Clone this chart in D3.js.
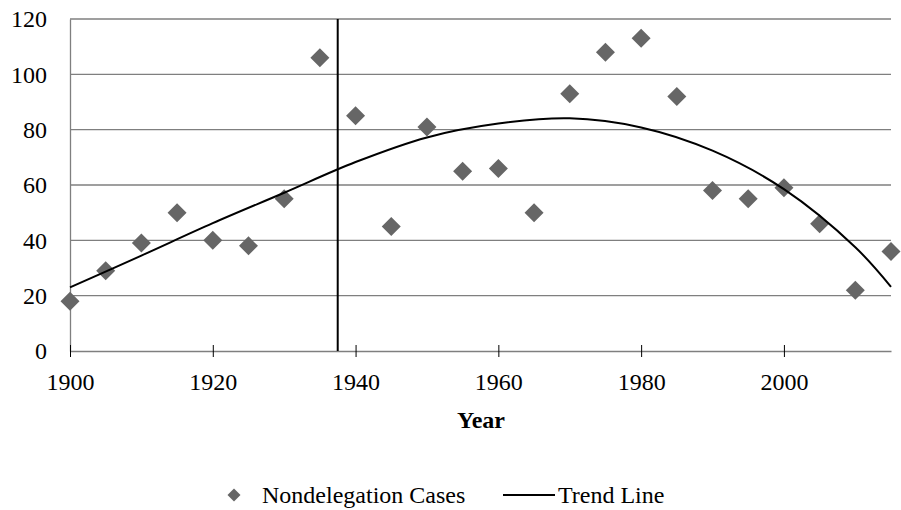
<!DOCTYPE html>
<html>
<head>
<meta charset="utf-8">
<script src="https://cdn.jsdelivr.net/npm/d3@7"></script>
<style>
  body { margin: 0; background: #fff; }
  svg, svg text { font-family: "Liberation Serif", "DejaVu Serif", serif; }
</style>
</head>
<body>
<svg></svg>
<script>
// scatter data
let years = [1900, 1905, 1910, 1915, 1920, 1925, 1930, 1935, 1940, 1945, 1950, 1955,
             1960, 1965, 1970, 1975, 1980, 1985, 1990, 1995, 2000, 2005, 2010, 2015]
let cases = [18, 29, 39, 50, 40, 38, 55, 106, 85, 45, 81, 65,
             66, 50, 93, 108, 113, 92, 58, 55, 59, 46, 22, 36]

// trend line points
let trendYears = [1900, 1910, 1920, 1930, 1940, 1950, 1960, 1970, 1980, 1990, 2000, 2010, 2015]
let trendValues = [23, 34.5, 46.2, 57.2, 68.3, 77.2, 82.2, 84.1, 80.8, 72.4, 58.5, 37.5, 23.2]

let markerYear = 1937.5

let xTicks = [1900, 1920, 1940, 1960, 1980, 2000]
let yTicks = [0, 20, 40, 60, 80, 100, 120]

let width = 901
let height = 510
let plotLeft = 70
let plotRight = 891
let plotTop = 19
let plotBottom = 351
let fontSize = '24px'
let serif = '"Liberation Serif", "DejaVu Serif", serif'

let svg = d3.select('svg')
svg.attr('width', width).attr('height', height)

let xScale = d3.scaleLinear().domain([1900, 2015]).range([plotLeft, plotRight])
let yScale = d3.scaleLinear().domain([0, 120]).range([plotBottom, plotTop])

// gridlines
svg.append('g')
    .selectAll('line')
    .data(yTicks.filter(d => d > 0))
    .enter()
    .append('line')
    .attr('x1', plotLeft)
    .attr('x2', plotRight)
    .attr('y1', d => yScale(d))
    .attr('y2', d => yScale(d))
    .attr('stroke', '#7f7f7f')
    .attr('stroke-width', 1.3)

// y axis
let yAxis = d3.axisLeft(yScale).tickValues(yTicks).tickSize(0).tickPadding(23)
let gy = svg.append('g')
    .attr('transform', 'translate(' + plotLeft + ',0)')
    .call(yAxis)
gy.select('.domain').attr('stroke', '#7f7f7f').attr('stroke-width', 1.3)
gy.selectAll('text')
    .style('font-family', serif)
    .style('font-size', fontSize)
    .attr('fill', '#000')
    .attr('dy', '0.33em')

// x axis
let xAxis = d3.axisBottom(xScale).tickValues(xTicks).tickFormat(d3.format('d'))
    .tickSizeInner(6).tickSizeOuter(0)
let gx = svg.append('g')
    .attr('transform', 'translate(0,' + plotBottom + ')')
    .call(xAxis)
gx.select('.domain').attr('stroke', '#7f7f7f').attr('stroke-width', 1.3)
gx.selectAll('.tick line').attr('y1', -6).attr('stroke', '#000')
gx.selectAll('text')
    .style('font-family', serif)
    .style('font-size', fontSize)
    .attr('fill', '#000')
    .attr('y', 39)
    .attr('dy', 0)

// vertical marker line
svg.append('line')
    .attr('x1', xScale(markerYear))
    .attr('x2', xScale(markerYear))
    .attr('y1', yScale(120))
    .attr('y2', yScale(0))
    .attr('stroke', '#000')
    .attr('stroke-width', 2)

// diamonds
let diamond = (cx, cy, r) => 'M' + cx + ',' + (cy - r) + 'L' + (cx + r) + ',' + cy +
    'L' + cx + ',' + (cy + r) + 'L' + (cx - r) + ',' + cy + 'Z'

svg.append('g')
    .selectAll('path')
    .data(years)
    .enter()
    .append('path')
    .attr('d', (d, i) => diamond(xScale(d), yScale(cases[i]), 9.5))
    .attr('fill', '#666666')

// trend line
let line = d3.line()
    .x(d => xScale(d[0]))
    .y(d => yScale(d[1]))
    .curve(d3.curveCatmullRom)

svg.append('path')
    .datum(trendYears.map((d, i) => [d, trendValues[i]]))
    .attr('d', line)
    .attr('fill', 'none')
    .attr('stroke', '#000')
    .attr('stroke-width', 2)

// axis title
svg.append('text')
    .attr('x', 481)
    .attr('y', 428)
    .attr('text-anchor', 'middle')
    .style('font-size', fontSize)
    .style('font-weight', 'bold')
    .text('Year')

// legend
let ly = 495
svg.append('path')
    .attr('d', diamond(234, ly, 6.5))
    .attr('fill', '#666666')
svg.append('text')
    .attr('x', 262)
    .attr('y', ly + 8)
    .style('font-size', fontSize)
    .text('Nondelegation Cases')
svg.append('line')
    .attr('x1', 503)
    .attr('x2', 555)
    .attr('y1', ly)
    .attr('y2', ly)
    .attr('stroke', '#000')
    .attr('stroke-width', 2)
svg.append('text')
    .attr('x', 558)
    .attr('y', ly + 8)
    .style('font-size', fontSize)
    .text('Trend Line')
</script>
</body>
</html>
